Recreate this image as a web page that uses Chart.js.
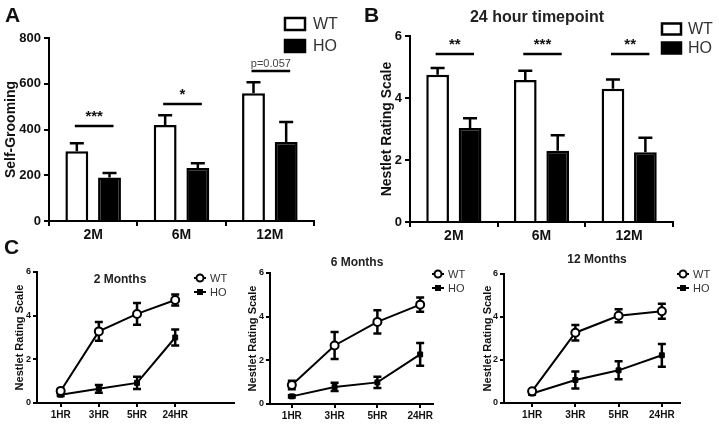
<!DOCTYPE html>
<html>
<head>
<meta charset="utf-8">
<script src="https://cdn.jsdelivr.net/npm/chart.js@4"></script>
<style>
  body { margin: 0; background: #fff; }
  #wrap { position: relative; width: 719px; height: 424px; overflow: hidden; }
  canvas { position: absolute; }
  .letter { position: absolute; font: bold 21px Arial, "Liberation Sans", sans-serif; color: #111; }
</style>
</head>
<body>
<div id="wrap">
  <canvas id="cA" style="left:0;top:0" width="360" height="245"></canvas>
  <canvas id="cB" style="left:360px;top:0" width="359" height="245"></canvas>
  <canvas id="c2" style="left:0;top:245px" width="240" height="179"></canvas>
  <canvas id="c6" style="left:240px;top:245px" width="240" height="179"></canvas>
  <canvas id="c12" style="left:480px;top:245px" width="239" height="179"></canvas>
  <div class="letter" style="left:5px;top:3px">A</div>
  <div class="letter" style="left:364px;top:3px">B</div>
  <div class="letter" style="left:4px;top:235px">C</div>
</div>
<script>
// panel A: self-grooming
const ageLabels = ["2M", "6M", "12M"];
const groomWT = [305, 420, 558];
const groomWTErr = [35, 42, 49];
const groomHO = [190, 232, 345];
const groomHOErr = [20, 21, 88];
const groomSigText = ["***", "*", "p=0.057"];
const groomSigLine = [415, 511, 656];

// panel B: nestlet at 24 hours
const nestWT = [4.75, 4.58, 4.3];
const nestWTErr = [0.22, 0.3, 0.3];
const nestHO = [3.03, 2.3, 2.25];
const nestHOErr = [0.32, 0.5, 0.47];
const nestSigText = ["**", "***", "**"];
const nestSigLine = [5.42, 5.42, 5.42];

// panel C: nestlet time course
const timeLabels = ["1HR", "3HR", "5HR", "24HR"];
const m2WT = [0.55, 3.28, 4.08, 4.72];
const m2WTErr = [0.1, 0.43, 0.5, 0.25];
const m2HO = [0.38, 0.65, 0.92, 3.0];
const m2HOErr = [0.06, 0.18, 0.28, 0.37];
const m6WT = [0.87, 2.68, 3.76, 4.55];
const m6WTErr = [0.2, 0.62, 0.53, 0.33];
const m6HO = [0.35, 0.78, 0.99, 2.27];
const m6HOErr = [0.05, 0.19, 0.26, 0.52];
const m12WT = [0.55, 3.27, 4.06, 4.27];
const m12WTErr = [0.08, 0.36, 0.3, 0.35];
const m12HO = [0.44, 1.07, 1.52, 2.22];
const m12HOErr = [0.06, 0.4, 0.42, 0.53];

const FONT = 'Arial, "Liberation Sans", Helvetica, sans-serif';
Chart.defaults.font.family = FONT;
Chart.defaults.color = "#111";

function drawErr(chart, o) {
  const ctx = chart.ctx;
  const ys = chart.scales.y;
  ctx.save();
  ctx.strokeStyle = "#000";
  ctx.lineWidth = o.errWidth;
  chart.data.datasets.forEach((ds, d) => {
    chart.getDatasetMeta(d).data.forEach((el, i) => {
      const raw = ds.data[i];
      const v = typeof raw === "object" ? raw.y : raw;
      const e = o.errors[d][i];
      const top = ys.getPixelForValue(v + e);
      const bot = o.errMode === "up" ? ys.getPixelForValue(v) : ys.getPixelForValue(v - e);
      const x = el.x, c = o.capW / 2;
      ctx.beginPath();
      ctx.moveTo(x, bot); ctx.lineTo(x, top);
      ctx.moveTo(x - c, top); ctx.lineTo(x + c, top);
      if (o.errMode !== "up") { ctx.moveTo(x - c, bot); ctx.lineTo(x + c, bot); }
      ctx.stroke();
    });
  });
  ctx.restore();
}

function drawExtras(chart, o) {
  const ctx = chart.ctx;
  const ys = chart.scales.y;
  ctx.save();
  // significance bars
  (o.sig || []).forEach((s, i) => {
    const a = chart.getDatasetMeta(0).data[i];
    const b = chart.getDatasetMeta(1).data[i];
    const y = ys.getPixelForValue(s.line);
    ctx.strokeStyle = "#000";
    ctx.lineWidth = 2.5;
    ctx.beginPath();
    ctx.moveTo(a.x - 2, y); ctx.lineTo(b.x + 4, y);
    ctx.stroke();
    const star = s.text.indexOf("*") === 0;
    ctx.fillStyle = star ? "#111" : "#444";
    ctx.font = star ? "bold 15px " + FONT : "11px " + FONT;
    ctx.textAlign = "center";
    ctx.textBaseline = "alphabetic";
    ctx.fillText(s.text, (a.x + b.x) / 2 + 1, star ? y - 5 : y - 4);
  });
  // legend
  const L = o.legend;
  chart.data.datasets.forEach((ds, d) => {
    const cy = L.y + d * L.dy;
    if (L.kind === "bar") {
      ctx.fillStyle = ds.backgroundColor;
      ctx.fillRect(L.x, cy - L.h / 2, L.w, L.h);
      ctx.strokeStyle = "#000";
      ctx.lineWidth = 2.5;
      ctx.strokeRect(L.x, cy - L.h / 2, L.w, L.h);
    } else {
      ctx.strokeStyle = "#000";
      ctx.lineWidth = 2;
      ctx.beginPath();
      ctx.moveTo(L.x - 6, cy); ctx.lineTo(L.x + 6, cy);
      ctx.stroke();
      ctx.fillStyle = ds.pointBackgroundColor;
      ctx.beginPath();
      if (ds.pointStyle === "rect") {
        ctx.rect(L.x - 3, cy - 3, 6, 6);
        ctx.fill();
      } else {
        ctx.arc(L.x, cy, 3.5, 0, Math.PI * 2);
        ctx.fill();
        ctx.stroke();
      }
    }
    ctx.fillStyle = "#333";
    ctx.font = L.font + "px " + FONT;
    ctx.textAlign = "left";
    ctx.textBaseline = "middle";
    ctx.fillText(ds.label, L.tx, cy + 1);
  });
  // title
  if (o.title) {
    ctx.fillStyle = "#222";
    ctx.font = "bold " + o.title.size + "px " + FONT;
    ctx.textAlign = "center";
    ctx.textBaseline = "middle";
    ctx.fillText(o.title.text, o.title.x, o.title.y);
  }
  ctx.restore();
}

const extrasPlugin = {
  id: "extras",
  beforeDatasetsDraw(chart, args, o) { if (o.errMode === "both") drawErr(chart, o); },
  afterDatasetsDraw(chart, args, o) {
    if (o.errMode === "up") drawErr(chart, o);
    drawExtras(chart, o);
  },
};

function axisStyle(tickLen) {
  return {
    grid: { display: true, drawOnChartArea: false, drawTicks: true, tickLength: tickLen, color: "#000", lineWidth: 2 },
    border: { display: true, color: "#000", width: 2 },
  };
}

function barChart(id, wt, wtErr, ho, hoErr, yMax, step, yTitle, pad, extras) {
  new Chart(document.getElementById(id), {
    type: "bar",
    data: {
      labels: ageLabels,
      datasets: [
        { label: "WT", data: wt, backgroundColor: "#fff", borderColor: "#000", borderWidth: 2.5,
          categoryPercentage: 0.74, barPercentage: 0.7 },
        { label: "HO", data: ho, backgroundColor: "#000", borderColor: "#000", borderWidth: 2.5,
          categoryPercentage: 0.74, barPercentage: 0.7 },
      ],
    },
    options: {
      responsive: false,
      animation: false,
      layout: { padding: { left: 0, top: pad.top, right: pad.right, bottom: 0 } },
      plugins: {
        legend: { display: false },
        tooltip: { enabled: false },
        extras: Object.assign({ errors: [wtErr, hoErr], errMode: "up", capW: 14, errWidth: 2.5 }, extras),
      },
      scales: {
        x: Object.assign(axisStyle(5), {
          ticks: { font: { size: 14, weight: "bold" }, color: "#111", padding: 1 },
          afterFit: (s) => { s.height = pad.xh; },
        }),
        y: Object.assign(axisStyle(5), {
          min: 0, max: yMax,
          ticks: { stepSize: step, font: { size: 13, weight: "bold" }, color: "#111", padding: 3 },
          title: { display: true, text: yTitle, font: { size: 14, weight: "bold" }, color: "#111",
            padding: { top: pad.tp, bottom: 0 } },
          afterFit: (s) => { s.width = pad.yw; },
        }),
      },
    },
    plugins: [extrasPlugin],
  });
}

barChart("cA", groomWT, groomWTErr, groomHO, groomHOErr, 800, 200, "Self-Grooming",
  { top: 38, right: 46, xh: 24, yw: 49, tp: 3 },
  { sig: groomSigText.map((t, i) => ({ text: t, line: groomSigLine[i] })),
    legend: { kind: "bar", x: 285, y: 24, dy: 22, w: 20, h: 12, tx: 313, font: 16 } });

barChart("cB", nestWT, nestWTErr, nestHO, nestHOErr, 6, 2, "Nestlet Rating Scale",
  { top: 36, right: 46, xh: 23, yw: 50, tp: 19 },
  { sig: nestSigText.map((t, i) => ({ text: t, line: nestSigLine[i] })),
    legend: { kind: "bar", x: 302, y: 29, dy: 19, w: 19, h: 11, tx: 328, font: 16 },
    title: { text: "24 hour timepoint", x: 177, y: 18, size: 16 } });

function lineChart(id, wt, wtErr, ho, hoErr, title, pad, xr) {
  const pts = (vals) => vals.map((v, i) => ({ x: i, y: v }));
  new Chart(document.getElementById(id), {
    type: "line",
    data: {
      datasets: [
        { label: "WT", data: pts(wt), borderColor: "#000", borderWidth: 2, pointStyle: "circle",
          pointRadius: 4, pointBackgroundColor: "#fff", pointBorderColor: "#000", pointBorderWidth: 2 },
        { label: "HO", data: pts(ho), borderColor: "#000", borderWidth: 2, pointStyle: "rect",
          pointRadius: 3.5, pointBackgroundColor: "#000", pointBorderColor: "#000", pointBorderWidth: 1 },
      ],
    },
    options: {
      responsive: false,
      animation: false,
      layout: { padding: { left: 0, top: pad.top, right: pad.right, bottom: 0 } },
      plugins: {
        legend: { display: false },
        tooltip: { enabled: false },
        extras: { errors: [wtErr, hoErr], errMode: "both", capW: 8, errWidth: 2.5,
          legend: { kind: "line", x: pad.lx, y: pad.ly, dy: 14, tx: pad.lx + 10, font: 11 },
          title: { text: title, x: pad.tx, y: pad.ty, size: 12 } },
      },
      scales: {
        x: Object.assign(axisStyle(4), {
          type: "linear", min: xr[0], max: xr[1],
          afterBuildTicks: (s) => { s.ticks = timeLabels.map((_, i) => ({ value: i })); },
          ticks: { font: { size: 10, weight: "bold" }, color: "#111", padding: 2, callback: (v) => timeLabels[v] },
          afterFit: (s) => { s.height = pad.xh; },
        }),
        y: Object.assign(axisStyle(4), {
          min: 0, max: 6,
          ticks: { stepSize: 2, font: { size: 9, weight: "bold" }, color: "#111", padding: 2 },
          title: { display: true, text: "Nestlet Rating Scale", font: { size: 11, weight: "bold" }, color: "#111",
            padding: { top: pad.tp, bottom: 0 } },
          afterFit: (s) => { s.width = pad.yw; },
        }),
      },
    },
    plugins: [extrasPlugin],
  });
}

lineChart("c2", m2WT, m2WTErr, m2HO, m2HOErr, "2 Months",
  { top: 27, right: 2, xh: 21, yw: 37, tp: 13, lx: 200, ly: 33, tx: 120, ty: 35 }, [-0.62, 4.54]);
lineChart("c6", m6WT, m6WTErr, m6HO, m6HOErr, "6 Months",
  { top: 28, right: 47, xh: 20, yw: 30, tp: 6, lx: 198, ly: 29, tx: 117, ty: 18 }, [-0.51, 3.3]);
lineChart("c12", m12WT, m12WTErr, m12HO, m12HOErr, "12 Months",
  { top: 29, right: 39, xh: 21, yw: 24, tp: 1, lx: 203, ly: 29, tx: 117, ty: 15 }, [-0.65, 3.42]);
</script>
</body>
</html>
